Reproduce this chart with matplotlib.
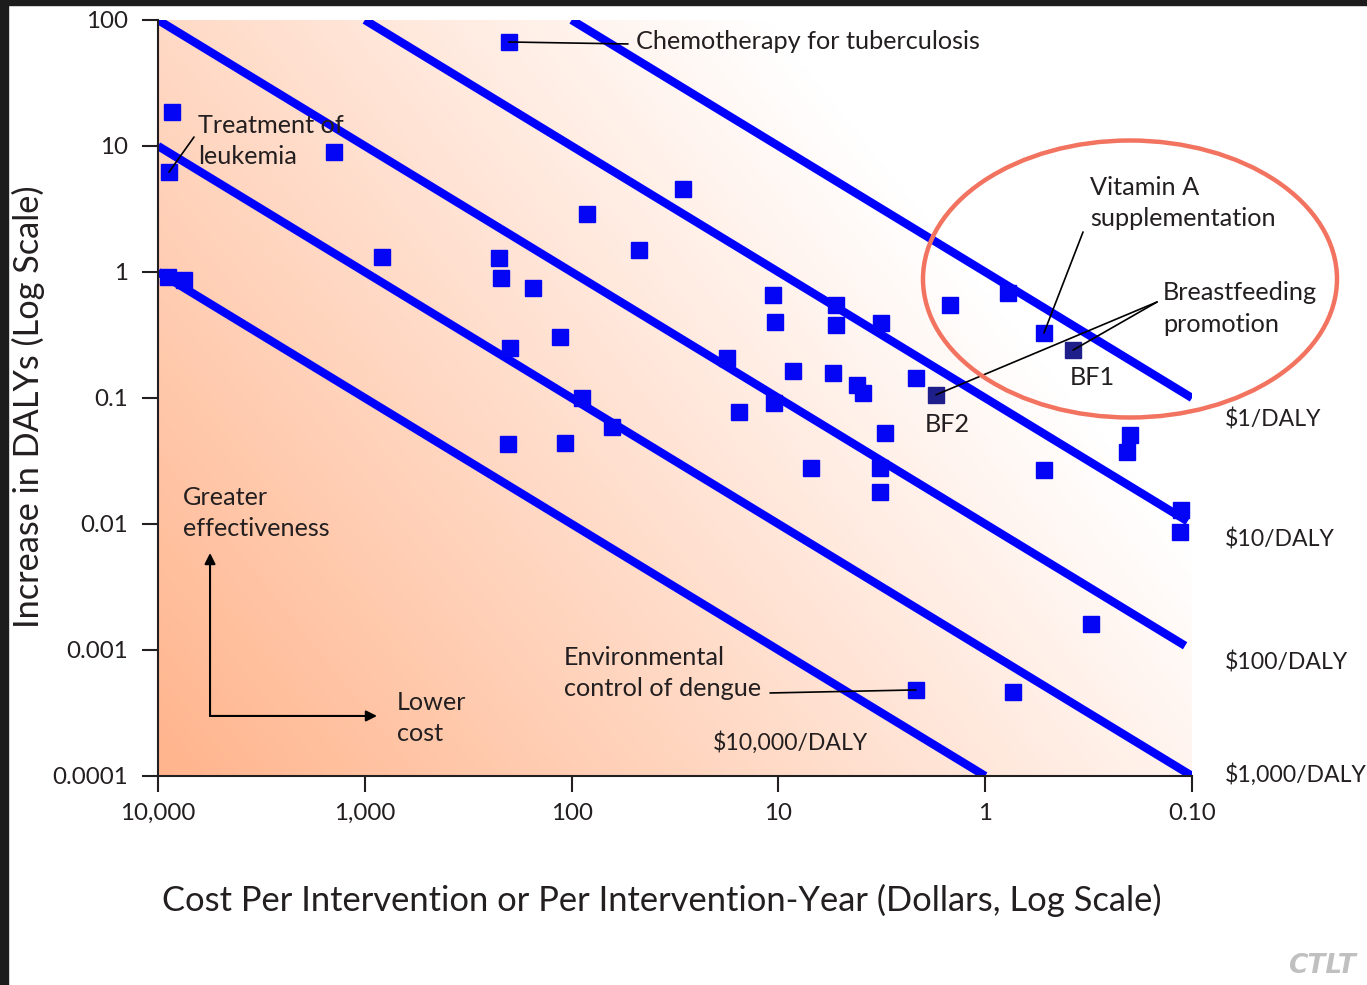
import numpy as np
import matplotlib
matplotlib.use("Agg")
import matplotlib.pyplot as plt
from matplotlib.patches import Ellipse, Rectangle

plt.rcParams["font.family"] = ["Lato", "DejaVu Sans"]

TEXT = "#231f20"
BLUE = "#0000ff"

# ----- DATA -----
# cost per intervention (dollars) and increase in DALYs for each intervention
cost = [8550, 8850, 1410, 826, 8950, 7490, 201, 28.9, 84.3, 47.2,
        224, 219, 154, 10.6, 5.27, 10.4, 5.27, 3.19, 114, 199,
        17.7, 8.5, 5.45, 4.17, 3.90, 89.1, 15.5, 10.5, 63.8, 203,
        108, 3.05, 6.95, 3.23, 3.23, 0.776, 1.48, 0.520, 2.16, 0.200,
        0.206, 0.520, 0.113, 0.114, 0.308, 2.16, 0.734]
dalys = [18.6, 6.2, 8.96, 1.32, 0.91, 0.865, 66.9, 4.56, 2.89, 1.50,
         1.29, 0.896, 0.746, 0.657, 0.547, 0.401, 0.380, 0.394, 0.305, 0.249,
         0.208, 0.164, 0.158, 0.127, 0.110, 0.100, 0.0774, 0.0912, 0.0589, 0.0432,
         0.0440, 0.0527, 0.0278, 0.0278, 0.0179, 0.681, 0.547, 0.328, 0.144, 0.0508,
         0.0373, 0.0268, 0.0129, 0.00865, 0.00161, 0.000482, 0.000464]

# breastfeeding promotion points (BF1, BF2)
bf_names = ["BF1", "BF2"]
bf_cost = [0.376, 1.73]
bf_dalys = [0.240, 0.106]

# indices of the labelled interventions in the lists above
i_chemo, i_leuk, i_vita, i_dengue = 6, 1, 37, 45

# cost-effectiveness lines ($ per DALY) and the cost range each one spans
ce_ratio = [1, 10, 100, 1000, 10000]
ce_cost_start = [100, 1000, 10000, 10000, 10000]
ce_cost_end = [0.1, 0.105, 0.108, 0.1, 1.0]

x_ticks = [10000, 1000, 100, 10, 1, 0.1]
x_ticklabels = ["10,000", "1,000", "100", "10", "1", "0.10"]
y_ticks = [0.0001, 0.001, 0.01, 0.1, 1, 10, 100]
y_ticklabels = ["0.0001", "0.001", "0.01", "0.1", "1", "10", "100"]

# ----- FIGURE -----
fig = plt.figure(figsize=(13.67, 9.85), dpi=100)
fig.patch.set_facecolor("white")
pos = [0.1156, 0.2122, 0.7564, 0.7675]

# peach gradient behind the plot area (strong orange bottom-left -> white top-right)
bg = fig.add_axes(pos, zorder=0)
u = np.linspace(0, 1, 400)[None, :]
v = np.linspace(1, 0, 300)[:, None]
s = np.clip(1 - (0.85 * u + 0.5 * v), 0, 1)[..., None]
orange = np.array([255, 180, 140]) / 255
grad = (1 - s) * np.ones(3) + s * orange
bg.imshow(grad, aspect="auto", extent=[0, 1, 0, 1], interpolation="bilinear")
bg.axis("off")

ax = fig.add_axes(pos, zorder=1)
ax.set_facecolor("none")
ax.set_xscale("log")
ax.set_yscale("log")
ax.set_xlim(10000, 0.1)
ax.set_ylim(0.0001, 100)

for r, c0, c1 in zip(ce_ratio, ce_cost_start, ce_cost_end):
    c = np.array([c0, c1])
    ax.plot(c, c / r, color=BLUE, lw=6, solid_capstyle="butt", zorder=2)

ax.plot(cost, dalys, "s", color="#0505f5", ms=11.5, zorder=3)
ax.plot(bf_cost, bf_dalys, "s", color="#1f1f8c", ms=11.5, zorder=3)

ax.xaxis.set_major_locator(matplotlib.ticker.FixedLocator(x_ticks))
ax.xaxis.set_major_formatter(matplotlib.ticker.FixedFormatter(x_ticklabels))
ax.yaxis.set_major_locator(matplotlib.ticker.FixedLocator(y_ticks))
ax.yaxis.set_major_formatter(matplotlib.ticker.FixedFormatter(y_ticklabels))
ax.xaxis.set_minor_locator(matplotlib.ticker.NullLocator())
ax.yaxis.set_minor_locator(matplotlib.ticker.NullLocator())
ax.tick_params(axis="both", direction="out", length=11.5, width=1.5,
               labelsize=17.4, colors=TEXT)
ax.tick_params(axis="y", pad=10)
ax.tick_params(axis="x", pad=8)
for side in ["top", "right"]:
    ax.spines[side].set_visible(False)
for side in ["left", "bottom"]:
    ax.spines[side].set_linewidth(1.5)
    ax.spines[side].set_color(TEXT)

ax.set_xlabel("Cost Per Intervention or Per Intervention-Year (Dollars, Log Scale)",
              fontsize=24.8, color=TEXT, va="center")
ax.xaxis.set_label_coords(0.487, -0.164)
ax.set_ylabel("Increase in DALYs (Log Scale)", fontsize=24.7, color=TEXT, va="center")
ax.yaxis.set_label_coords(-0.1257, 0.489)

# ----- ANNOTATIONS -----
tkw = dict(transform=ax.transAxes, fontsize=18.2, color=TEXT, va="center",
           ha="left", linespacing=1.45)
line_kw = dict(arrowstyle="-", color="black", lw=1.2, shrinkA=0, shrinkB=0)

ax.text(0.4623, 0.9722, "Chemotherapy for tuberculosis", **tkw)
ax.annotate("", xy=(cost[i_chemo], dalys[i_chemo]), xytext=(0.4545, 0.9683),
            textcoords="axes fraction", arrowprops=line_kw)

ax.text(0.0387, 0.840, "Treatment of\nleukemia", **tkw)
ax.annotate("", xy=(cost[i_leuk], dalys[i_leuk]), xytext=(0.0348, 0.8452),
            textcoords="axes fraction", arrowprops=line_kw)

ax.text(0.9014, 0.758, "Vitamin A\nsupplementation", **tkw)
ax.annotate("", xy=(cost[i_vita], dalys[i_vita]), xytext=(0.8946, 0.7196),
            textcoords="axes fraction", arrowprops=line_kw)

ax.text(0.972, 0.6184, "Breastfeeding\npromotion", **tkw)
for bc, bd in zip(bf_cost, bf_dalys):
    ax.annotate("", xy=(bc, bd), xytext=(0.9662, 0.627),
                textcoords="axes fraction", arrowprops=line_kw)
ax.text(0.882, 0.5265, bf_names[0], **tkw)
ax.text(0.7418, 0.4643, bf_names[1], **tkw)

ax.text(0.3926, 0.1362, "Environmental\ncontrol of dengue", **tkw)
ax.annotate("", xy=(cost[i_dengue], dalys[i_dengue]), xytext=(0.5919, 0.1098),
            textcoords="axes fraction", arrowprops=line_kw)

# cost-effectiveness line labels
dkw = dict(tkw, fontsize=16.6)
ax.text(1.0319, 0.4722, "$1/DALY", **dkw)
ax.text(1.0319, 0.3122, "$10/DALY", **dkw)
ax.text(1.0319, 0.1495, "$100/DALY", **dkw)
ax.text(1.0319, 0.0013, "$1,000/DALY", **dkw)
ax.text(0.5368, 0.0437, "$10,000/DALY", **dkw)

# direction arrows
ax.text(0.0242, 0.3479, "Greater\neffectiveness", **tkw)
ax.text(0.2311, 0.0767, "Lower\ncost", **tkw)
arrow_kw = dict(arrowstyle="-|>", color="black", lw=1.5, mutation_scale=16,
                shrinkA=0, shrinkB=0)
ax.annotate("", xy=(0.0503, 0.295), xytext=(0.0503, 0.0794),
            xycoords="axes fraction", arrowprops=arrow_kw)
ax.annotate("", xy=(0.2118, 0.0794), xytext=(0.0503, 0.0794),
            xycoords="axes fraction", arrowprops=arrow_kw)

# highlight circle around the cheapest interventions
ax.add_patch(Ellipse((0.940, 0.6574), 0.4004, 0.3664, transform=ax.transAxes,
                     fill=False, ec="#f2735f", lw=3.2, clip_on=False, zorder=4))

# dark frame strips and watermark
fig.patches.append(Rectangle((0, 1 - 5 / 985), 1, 5 / 985, transform=fig.transFigure,
                             color="#1c1c1c", zorder=10))
fig.patches.append(Rectangle((0, 0), 8 / 1367, 1, transform=fig.transFigure,
                             color="#1c1c1c", zorder=10))
fig.text(0.942, 0.006, "CTLT", fontsize=19, color="#c0c0c0", weight="bold",
         style="italic", family="DejaVu Sans", ha="left", va="bottom")

fig.savefig("out.png", dpi=100)
